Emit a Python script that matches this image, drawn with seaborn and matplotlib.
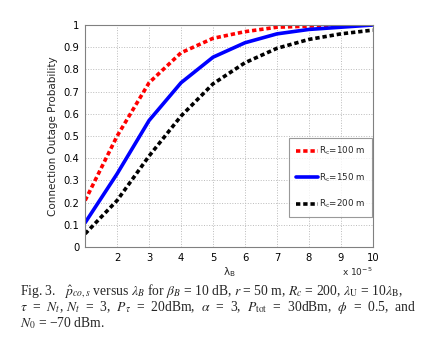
import numpy as np
import pandas as pd
import seaborn as sns
import matplotlib
matplotlib.use("Agg")
import matplotlib.pyplot as plt

# data (lambda_B in units of 1e-5)
lam_b = [1, 2, 3, 4, 5, 6, 7, 8, 9, 10]
p_rc100 = [0.21, 0.50, 0.74, 0.875, 0.94, 0.97, 0.99, 0.995, 1.0, 1.0]
p_rc150 = [0.11, 0.33, 0.57, 0.74, 0.855, 0.92, 0.96, 0.98, 0.99, 1.0]
p_rc200 = [0.06, 0.21, 0.41, 0.59, 0.735, 0.83, 0.895, 0.935, 0.96, 0.977]
labels = ["R$_\\mathregular{c}$=100 m", "R$_\\mathregular{c}$=150 m", "R$_\\mathregular{c}$=200 m"]

df = pd.DataFrame({
    "lam": lam_b * 3,
    "p": p_rc100 + p_rc150 + p_rc200,
    "series": [labels[0]] * 10 + [labels[1]] * 10 + [labels[2]] * 10,
})

sns.set_style("whitegrid")
plt.rcParams["font.family"] = ["DejaVu Sans"]
plt.rcParams["mathtext.fontset"] = "stix"

fig = plt.figure(figsize=(4.3, 3.52), dpi=100)
ax = fig.add_axes([0.198, 0.298, 0.669, 0.631])

sns.lineplot(data=df, x="lam", y="p", hue="series", style="series",
             palette=["#ff0000", "#0000ff", "#000000"],
             dashes=[(1.2, 0.8), "", (1.2, 0.8)], linewidth=2.6, ax=ax)

ax.set_xlim(1, 10)
ax.set_ylim(0, 1)
ax.set_xticks([2, 3, 4, 5, 6, 7, 8, 9, 10])
ax.set_yticks(np.arange(0, 1.01, 0.1))
ax.set_yticklabels(["0", "0.1", "0.2", "0.3", "0.4", "0.5", "0.6", "0.7", "0.8", "0.9", "1"])
ax.tick_params(labelsize=7.2, length=2, pad=2, colors="black")
ax.grid(True, linestyle=":", color="#bbbbbb", linewidth=0.7)
for s in ax.spines.values():
    s.set_color("#808080")
    s.set_linewidth(0.8)

ax.set_xlabel("λ$_\\mathregular{B}$", fontsize=7.5, labelpad=2)
ax.set_ylabel("Connection Outage Probability", fontsize=7.5, labelpad=4)
ax.text(1.0, -0.085, "x 10$^{\\mathregular{-5}}$", transform=ax.transAxes,
        fontsize=6.5, ha="right", va="top")

leg = ax.legend(loc="center right", bbox_to_anchor=(0.998, 0.313), fontsize=6.3,
                handlelength=2.5, handletextpad=0.1, labelspacing=1.6,
                frameon=True, fancybox=False, edgecolor="#808080",
                borderpad=0.8, borderaxespad=0, title=None)
leg.get_frame().set_linewidth(0.8)

cap = dict(fontsize=9.8, family="Liberation Serif", ha="left", va="baseline")
fig.text(0.046, 0.162,
         "Fig. 3.   $\\hat{p}_{co,s}$ versus $\\lambda_B$ for $\\beta_B$ = 10 dB, $r$ = 50 m, $R_c$ = 200, $\\lambda_{\\rm U}$ = 10$\\lambda_{\\rm B}$,",
         **cap)
fig.text(0.046, 0.116,
         "$\\tau$  =  $N_t$, $N_t$  =  3,  $P_\\tau$  =  20dBm,  $\\alpha$  =  3,  $P_{\\rm tot}$  =  30dBm,  $\\phi$  =  0.5,  and",
         **cap)
fig.text(0.046, 0.070, "$N_0$ = −70 dBm.", **cap)

fig.savefig("out.png", dpi=100)
